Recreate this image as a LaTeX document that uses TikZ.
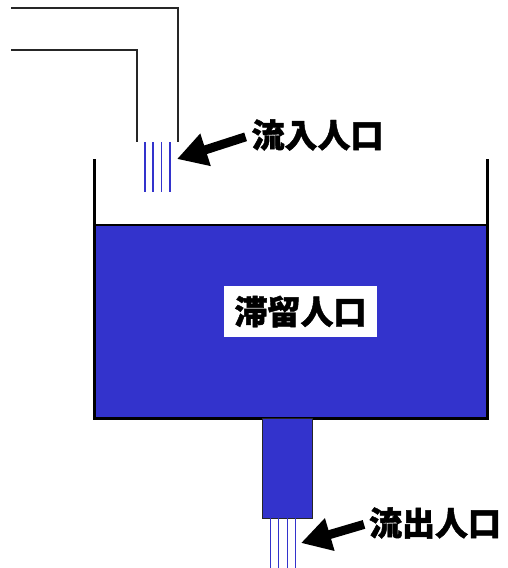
\documentclass[tikz,border=0pt]{standalone}
\usepackage{fontspec}
\newfontfamily\cjk{Noto Sans CJK JP}[BoldFeatures={FakeBold=1.3}]
\usetikzlibrary{arrows.meta}
\definecolor{water}{HTML}{3333CC}
\begin{document}
\begin{tikzpicture}[x=1pt,y=-1pt,
  pipe/.style={draw=black!85, line width=1.3pt},
  flow/.style={draw=water, line width=1.3pt},
  wall/.style={draw=black, line width=3pt},
  lbl/.style={font=\cjk\bfseries\fontsize{33}{33}\selectfont, inner sep=0pt},
  bigarrow/.style={draw=black, line width=9pt, -{Triangle[length=30pt,width=32pt]}}]
\useasboundingbox (0,0) rectangle (507,568);
% inflow pipe
\draw[pipe] (11,8) -| (178,142);
\draw[pipe] (11,50) -| (137,142);
\foreach \xx in {145,153,161.5,170} \draw[flow] (\xx,142) -- (\xx,192);
% tank
\fill[water] (95,225) rectangle (486,418);
\draw[black, line width=1.5pt] (95,225) -- (486,225);
\draw[wall] (94,159) -- (94,418) -- (487,418) -- (487,159);
% outlet
\draw[fill=water, draw=black!85, line width=0.8pt] (262,418) rectangle (312,518);
\foreach \xx in {270,278,287,295} \draw[flow, line width=1pt] (\xx,518) -- (\xx,568);
% labels
\node[lbl, fill=white, minimum width=153pt, minimum height=51pt] (stay) at (300.5,311.5) {滞留人口};
\node[lbl] (in) at (317.5,135) {流入人口};
\node[lbl] (out) at (435,523) {流出人口};
\coordinate (inTip) at (177,159);
\coordinate (outTip) at (301,543);
\draw[bigarrow, shorten <=6pt] (in.west) -- (inTip);
\draw[bigarrow, shorten <=5pt] (out.west) -- (outTip);
\end{tikzpicture}
\end{document}
